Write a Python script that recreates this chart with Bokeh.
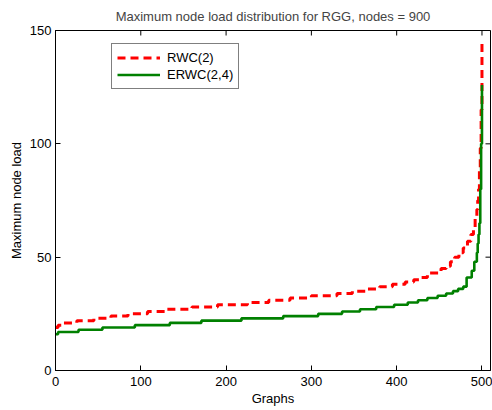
import math
from bokeh.plotting import figure
from bokeh.models import Range1d, FixedTicker, Legend, LegendItem
from bokeh.embed import file_html
from bokeh.resources import INLINE

# ---- data ----
graph_rwc = [0, 3, 8, 25, 45, 65, 85, 108, 130, 160, 190, 225, 250, 275, 300,
             330, 348, 365, 380, 395, 410, 420, 428, 436, 452, 458, 463, 468,
             473, 478, 483, 487, 490, 492, 494, 495, 496, 497, 498, 499, 500]
load_rwc = [19, 20, 21, 22, 23, 24, 25, 26, 27, 28, 29, 30, 31, 32, 33,
            34, 35, 36, 37, 38, 39, 40, 41, 43, 45, 46, 48, 50,
            52, 54, 57, 60, 63, 67, 71, 75, 80, 88, 98, 115, 145]

graph_erwc = [0, 3, 27, 55, 93, 134, 171, 218, 267, 308, 336, 357, 376, 397,
              413, 425, 436, 448, 458, 466, 472, 478, 482, 488, 491, 494, 495,
              496, 497, 498, 499, 500]
load_erwc = [16, 17, 18, 19, 20, 21, 22, 23, 24, 25, 26, 27, 28, 29,
             30, 31, 32, 33, 34, 35, 36, 37, 41, 44, 48, 52, 56,
             60, 65, 80, 100, 126]

x_ticks = [0, 100, 200, 300, 400, 500]
y_ticks = [0, 50, 100, 150]
x_limits = (0, 510)
y_limits = (0, 150)

title_text = "Maximum node load distribution for RGG, nodes = 900"
x_label = "Graphs"
y_label = "Maximum node load"
FONT = "Liberation Sans"
FS = "13px"

p = figure(width=492, height=410, output_backend="svg", toolbar_location=None,
           x_range=Range1d(*x_limits), y_range=Range1d(*y_limits),
           min_border_left=55, min_border_right=2, min_border_top=29,
           min_border_bottom=40)
p.background_fill_color = "white"
p.border_fill_color = "white"
p.outline_line_color = "black"
p.outline_line_width = 1
p.grid.visible = False

p.title.text = title_text
p.title.align = "center"
p.title.text_font = FONT
p.title.text_font_size = FS
p.title.text_font_style = "normal"
p.title.standoff = 13

for ax, ticks in ((p.xaxis[0], x_ticks), (p.yaxis[0], y_ticks)):
    ax.ticker = FixedTicker(ticks=ticks)
    ax.major_tick_in = 5
    ax.major_tick_out = 0
    ax.minor_tick_line_color = None
    ax.axis_line_color = "black"
    ax.major_tick_line_color = "black"
    ax.major_label_text_font = FONT
    ax.major_label_text_font_size = FS
    ax.major_label_text_color = "black"
    ax.axis_label_text_font = FONT
    ax.axis_label_text_font_size = FS
    ax.axis_label_text_font_style = "normal"
    ax.axis_label_text_color = "black"

p.xaxis.axis_label = x_label
p.yaxis.axis_label = y_label
p.xaxis.major_label_standoff = 6
p.xaxis.axis_label_standoff = 2
p.yaxis.major_label_standoff = 4
p.yaxis.axis_label_standoff = 3

# top / right inward tick marks (MATLAB box), clipped to the frame
p.scatter(x_ticks, [y_limits[1]] * len(x_ticks), marker="dash", size=10,
          angle=math.pi / 2, line_color="black", line_width=1)
p.scatter([x_limits[1]] * len(y_ticks), y_ticks, marker="dash", size=10,
          line_color="black", line_width=1)

r1 = p.step(graph_rwc, load_rwc, mode="after", line_color="#ff0000",
            line_width=3, line_dash="8 5")
r2 = p.step(graph_erwc, load_erwc, mode="after", line_color="#008000",
            line_width=2.6)

legend = Legend(items=[LegendItem(label="RWC(2)", renderers=[r1]),
                       LegendItem(label="ERWC(2,4)", renderers=[r2])],
                location=(56, 281), orientation="vertical")
legend.label_text_font = FONT
legend.label_text_font_size = FS
legend.label_text_color = "black"
legend.border_line_color = "black"
legend.border_line_width = 1
legend.background_fill_alpha = 1
legend.padding = 5
legend.spacing = 0
legend.margin = 0
legend.glyph_width = 43
legend.glyph_height = 17
legend.label_height = 17
legend.label_standoff = 7
p.add_layout(legend, "center")

open("out.html", "w").write(file_html(p, INLINE))
